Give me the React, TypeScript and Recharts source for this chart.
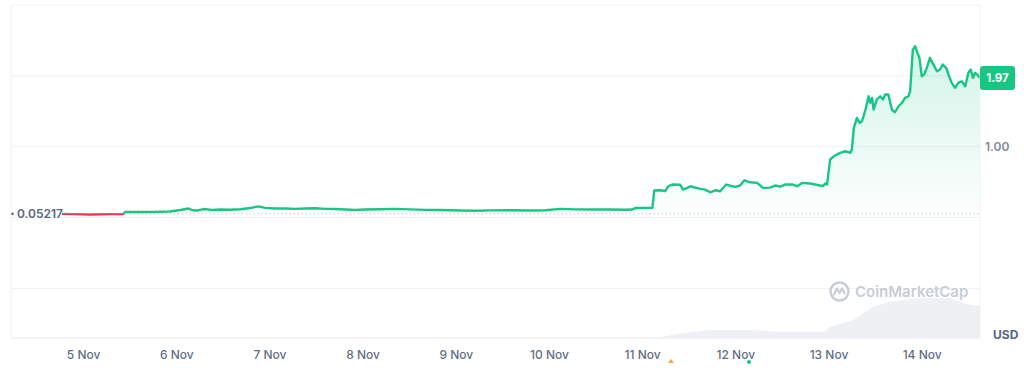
import React from "react";
import {
  ComposedChart,
  Line,
  Area,
  XAxis,
  YAxis,
  CartesianGrid,
  ReferenceLine,
  ReferenceDot,
} from "recharts";

// hours counted from 4 Nov 00:00
const hours = [
  18.4, 21.9, 25.7, 28.3, 30.9, 34.2, 34.7, 38.6, 42.5, 46.3, 48.9, 51.0, 52.2, 53.3, 54.8, 57.1,
  59.2, 61.8, 64.4, 66.9, 69.0, 70.8, 73.4, 76.0, 78.5, 81.1, 83.7, 86.2, 88.8, 91.4, 94.0, 96.5,
  100.4, 104.2, 108.1, 112.0, 115.8, 121.0, 124.9, 128.7, 133.9, 139.0, 142.9, 146.8, 150.6, 154.5,
  159.7, 163.5, 165.3, 166.1, 168.7, 170.5, 171.0, 172.5, 173.8, 174.6, 175.6, 177.7, 178.4, 179.5,
  180.3, 182.8, 184.1, 185.4, 186.7, 188.0, 189.5, 191.8, 193.1, 194.2, 195.7, 197.5, 199.0, 200.8,
  202.1, 203.4, 204.7, 206.7, 207.8, 209.1, 211.1, 212.4, 213.7, 214.5, 215.0, 215.5, 216.3, 217.2,
  218.0, 218.9, 220.2, 221.5, 221.9, 222.4, 223.2, 223.9, 224.5, 225.4, 226.2, 226.6, 227.1, 227.5,
  228.3, 229.2, 229.9, 230.5, 231.3, 232.2, 233.0, 233.9, 234.8, 235.6, 236.5, 236.9, 237.6, 238.2,
  238.8, 239.3, 239.9, 240.5, 241.2, 242.0, 242.9, 243.8, 244.6, 245.3, 246.2, 246.8, 247.6, 248.5,
  249.3, 250.2, 251.1, 251.9, 252.5, 253.1, 253.6, 254.2, 254.9,
];

const prices = [
  0.052, 0.048, 0.044, 0.047, 0.049, 0.050, 0.078, 0.078, 0.080, 0.085, 0.106, 0.127, 0.103, 0.099, 0.120, 0.109,
  0.113, 0.110, 0.117, 0.134, 0.158, 0.137, 0.127, 0.127, 0.123, 0.127, 0.131, 0.123, 0.120, 0.113, 0.109, 0.113,
  0.117, 0.123, 0.116, 0.109, 0.106, 0.099, 0.095, 0.102, 0.103, 0.099, 0.103, 0.123, 0.116, 0.113,
  0.113, 0.110, 0.113, 0.134, 0.137, 0.137, 0.381, 0.385, 0.374, 0.442, 0.466, 0.462, 0.395, 0.419,
  0.442, 0.405, 0.395, 0.357, 0.385, 0.371, 0.466, 0.433, 0.452, 0.526, 0.498, 0.489, 0.419, 0.423,
  0.452, 0.438, 0.466, 0.466, 0.442, 0.489, 0.480, 0.466, 0.452, 0.445, 0.480, 0.466, 0.819, 0.865,
  0.889, 0.913, 0.936, 0.913, 0.960, 1.266, 1.407, 1.337, 1.359, 1.524, 1.712, 1.619, 1.689, 1.524,
  1.665, 1.712, 1.665, 1.736, 1.736, 1.524, 1.486, 1.571, 1.619, 1.689, 1.712, 1.783, 2.371, 2.418,
  2.325, 2.254, 1.994, 2.018, 2.113, 2.254, 2.159, 2.065, 2.089, 2.159, 2.113, 2.018, 1.901, 1.831,
  1.901, 1.924, 1.853, 2.042, 2.089, 1.972, 2.042, 2.018, 1.970,
];

const volumeHours = [171.2, 176.9, 185.4, 194.9, 203.4, 215.0, 216.3, 222.2, 227.4, 231.7, 238.7, 247.2, 251.6, 254.9];
const volumes = [0, 12, 24, 24, 19, 19, 34, 54, 94, 109, 119, 119, 101, 96];

const dayTicks = [24, 48, 72, 96, 120, 144, 168, 192, 216, 240];
const dayLabels = ["5 Nov", "6 Nov", "7 Nov", "8 Nov", "9 Nov", "10 Nov", "11 Nov", "12 Nov", "13 Nov", "14 Nov"];
const priceTicks = [-1, 0, 1, 2, 3];

const basePrice = 0.05217;
const lastPrice = 1.97;

const GREEN = "#16c784";
const RED = "#ea3943";
const GRID = "#eff2f5";
const TEXT = "#616e85";
const FONT = "Inter, 'Noto Sans', sans-serif";

const priceRows = hours.map((h, i) => ({ hour: h, price: prices[i] }));
const volumeRows = volumeHours.map((h, i) => ({ hour: h, volume: volumes[i] }));

const maxP = Math.max(...prices);
const minP = Math.min(...prices);
const splitOff = (maxP - basePrice) / (maxP - minP);

const BaseLabel = (props: any) => {
  const { cx, cy } = props;
  return (
    <g>
      <circle cx={cx + 1.5} cy={cy} r={1.3} fill="#58667e" />
      <text x={cx + 6} y={cy} dy={4} fontSize={12} fontWeight={600} fill="#58667e" fontFamily={FONT}>
        0.05217
      </text>
    </g>
  );
};

const PriceBadge = (props: any) => {
  const { cx, cy } = props;
  return (
    <g>
      <rect x={cx} y={cy - 12} width={35} height={24} rx={3} fill={GREEN} />
      <text x={cx + 17.5} y={cy} dy={4} textAnchor="middle" fontSize={11.5} fontWeight={700} fill="#fff" fontFamily={FONT}>
        {lastPrice.toFixed(2)}
      </text>
    </g>
  );
};

export default function App() {
  return (
    <div style={{ position: "absolute", left: 0, top: 0, width: 1024, height: 385, background: "#fff", fontFamily: FONT }}>
      <ComposedChart width={1024} height={385} data={priceRows} margin={{ top: 5, right: 0, bottom: 0, left: 11 }}>
        <defs>
          <linearGradient id="lineSplit" x1="0" y1="0" x2="0" y2="1">
            <stop offset={splitOff} stopColor={GREEN} />
            <stop offset={splitOff} stopColor={RED} />
          </linearGradient>
          <linearGradient id="areaFill" x1="0" y1="0" x2="0" y2="1">
            <stop offset="0%" stopColor={GREEN} stopOpacity={0.32} />
            <stop offset="100%" stopColor={GREEN} stopOpacity={0.02} />
          </linearGradient>
        </defs>
        <CartesianGrid vertical={false} stroke={GRID} />
        <XAxis
          dataKey="hour"
          type="number"
          domain={[5.3, 254.9]}
          ticks={dayTicks}
          tickFormatter={(h: number) => dayLabels[dayTicks.indexOf(h)]}
          allowDataOverflow
          height={47}
          tickLine={false}
          tickSize={0}
          tickMargin={12}
          axisLine={{ stroke: GRID }}
          tick={{ fill: TEXT, fontSize: 12, fontWeight: 500, fontFamily: FONT }}
        />
        <YAxis
          orientation="right"
          domain={[-1.7, 3.0]}
          ticks={priceTicks}
          allowDataOverflow
          width={44}
          tickLine={false}
          tickSize={0}
          tickMargin={5}
          axisLine={{ stroke: GRID }}
          tickFormatter={(v: number) => (v === 1 ? "1.00" : "")}
          tick={{ fill: "#808a9d", fontSize: 12, fontWeight: 600, fontFamily: FONT, textAnchor: "start" }}
        />
        <YAxis yAxisId="vol" hide domain={[0, 1000]} />
        <ReferenceLine x={5.3} stroke={GRID} />
        <Area
          yAxisId="vol"
          data={volumeRows}
          dataKey="volume"
          type="linear"
          stroke="none"
          fill="#eef0f4"
          fillOpacity={1}
          isAnimationActive={false}
        />
        <Area
          dataKey="price"
          type="linear"
          stroke="none"
          fill="url(#areaFill)"
          baseValue={basePrice}
          isAnimationActive={false}
        />
        <ReferenceLine
          segment={[
            { x: 18.4, y: basePrice },
            { x: 254.9, y: basePrice },
          ]}
          stroke="#a6b0c3"
          strokeDasharray="1 3"
        />
        <Line
          dataKey="price"
          type="linear"
          stroke="url(#lineSplit)"
          strokeWidth={2.4}
          strokeLinejoin="round"
          dot={false}
          isAnimationActive={false}
        />
        <ReferenceDot x={5.3} y={basePrice} r={2} shape={BaseLabel} />
        <ReferenceDot x={254.9} y={lastPrice} r={2} shape={PriceBadge} />
      </ComposedChart>

      <div
        style={{
          position: "absolute",
          left: 829,
          top: 281,
          display: "flex",
          alignItems: "center",
          gap: 5,
          color: "#c7cdd6",
          fontSize: 15,
          fontWeight: 600,
          pointerEvents: "none",
        }}
      >
        <svg width={21} height={21} viewBox="0 0 21 21">
          <circle cx={10.5} cy={10.5} r={9} fill="none" stroke="#c7cdd6" strokeWidth={2.4} />
          <path d="M5 13.5 L8 7.5 L10.5 12 L13 7.5 L15.5 12.5" fill="none" stroke="#c7cdd6" strokeWidth={2.2} strokeLinejoin="round" strokeLinecap="round" />
        </svg>
        <span>CoinMarketCap</span>
      </div>

      <div style={{ position: "absolute", left: 993, top: 327, fontSize: 12, fontWeight: 700, color: "#58667e" }}>USD</div>

      <svg style={{ position: "absolute", left: 667, top: 358 }} width={8} height={6}>
        <path d="M1 5 L4 1 L7 5 Z" fill="#f7a35c" />
      </svg>
      <svg style={{ position: "absolute", left: 746, top: 359 }} width={6} height={6}>
        <circle cx={3} cy={3} r={2} fill={GREEN} />
      </svg>
    </div>
  );
}
